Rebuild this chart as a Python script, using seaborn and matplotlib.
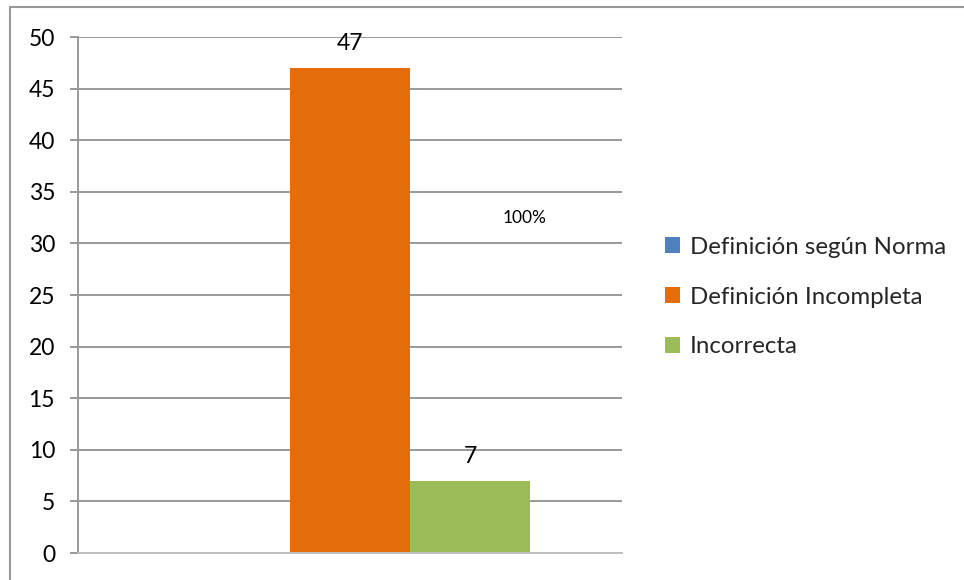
import matplotlib
matplotlib.use("Agg")
import matplotlib.pyplot as plt
from matplotlib.lines import Line2D
import seaborn as sns
import pandas as pd

# Survey results: how respondents defined the term
categories = [""]
series = ["Definición según Norma", "Definición Incompleta", "Incorrecta"]
values = [0, 47, 7]
colors = ["#4F81BD", "#E46C0A", "#9BBB59"]
y_ticks = [0, 5, 10, 15, 20, 25, 30, 35, 40, 45, 50]
note_text = "100%"

sns.set_theme(style="white")
plt.rcParams["font.family"] = ["Lato", "DejaVu Sans"]

df = pd.DataFrame({
    "categoria": categories * len(series),
    "serie": series,
    "valor": values,
})

fig = plt.figure(figsize=(9.64, 5.8), dpi=100)
ax = fig.add_axes([78 / 964, 27 / 580, 544 / 964, 516 / 580])

sns.barplot(data=df, x="categoria", y="valor", hue="serie", hue_order=series,
            palette=colors, width=0.662, saturation=1, ax=ax, legend=True,
            edgecolor="none", linewidth=0)

ax.set_xlim(-0.5, 0.5)
ax.set_ylim(0, 50)
ax.set_yticks(y_ticks)
ax.set_yticklabels([str(t) for t in y_ticks], fontsize=16.5, color="#000000")
ax.set_xticks([])
ax.set_xlabel("")
ax.set_ylabel("")

ax.yaxis.grid(True, color="#999999", linewidth=1.4)
ax.set_axisbelow(True)
for side in ("top", "right"):
    ax.spines[side].set_visible(False)
ax.spines["left"].set_color("#999999")
ax.spines["left"].set_linewidth(1.4)
ax.spines["bottom"].set_color("#bfbfbf")
ax.spines["bottom"].set_linewidth(1.4)
ax.tick_params(axis="y", which="major", left=True, length=5.5, width=1.4,
               color="#999999", direction="out", pad=11)

# value labels above the non-empty bars
for container, v in zip(ax.containers, values):
    if v > 0:
        ax.bar_label(container, labels=[str(v)], padding=10, fontsize=16.5,
                     color="#000000")

ax.text(0.3217, 32.5, note_text, ha="center", va="center", fontsize=12.5,
        color="#000000")

leg = ax.legend(loc="center left", bbox_to_anchor=(1.079, 0.496), frameon=False,
                fontsize=17.3, handlelength=0.64, handleheight=0.64,
                handletextpad=0.4, labelspacing=1.2, borderaxespad=0,
                borderpad=0)

# chart frame (left and top edges)
fig.add_artist(Line2D([10 / 964, 10 / 964], [0, 1 - 7 / 580],
                      transform=fig.transFigure, color="#999999", linewidth=1.5))
fig.add_artist(Line2D([10 / 964, 1], [1 - 7 / 580, 1 - 7 / 580],
                      transform=fig.transFigure, color="#999999", linewidth=1.5))

fig.savefig("out.png", dpi=100, facecolor="white")
